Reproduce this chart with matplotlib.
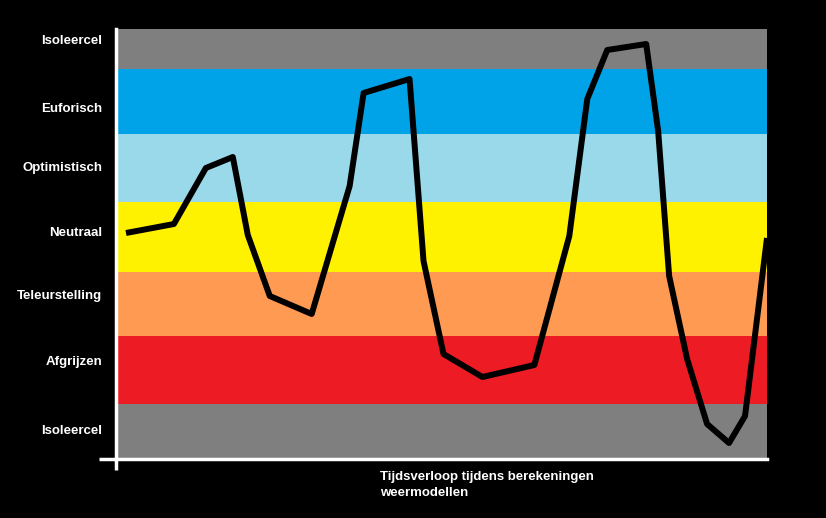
import matplotlib.pyplot as plt

# stemming-banden (van onder naar boven), grenzen in y-eenheden
band_edges = [0, 55, 123, 187, 257, 325, 390, 430]
band_colors = ['#7f7f7f', '#ed1c24', '#ff9a52', '#fff200', '#99d9ea', '#00a2e8', '#7f7f7f']

labels = ['Isoleercel', 'Afgrijzen', 'Teleurstelling', 'Neutraal',
          'Optimistisch', 'Euforisch', 'Isoleercel']
label_pos = [30, 98, 164, 228, 292, 351, 420]

# verloop van de stemming
tijd = [10, 58, 90, 117, 132, 154, 196, 234, 248, 294, 308, 328, 367,
        419, 454, 472, 492, 531, 543, 554, 572, 592, 614, 630, 652]
stemming = [226, 235, 291, 302, 224, 163, 145, 273, 366, 380, 198, 105, 82,
            94, 223, 360, 409, 415, 328, 183, 100, 35, 16, 43, 221]

plt.rcParams['font.family'] = ['Liberation Sans', 'DejaVu Sans']

fig = plt.figure(figsize=(8.26, 5.18), dpi=100, facecolor='black')
ax = fig.add_axes([116/826, (518-459)/518, (767-116)/826, (459-29)/518])
ax.set_facecolor('black')

for i in range(len(band_colors)):
    ax.axhspan(band_edges[i], band_edges[i+1], color=band_colors[i], lw=0)

ax.plot(tijd, stemming, color='black', lw=4.3, solid_capstyle='butt', solid_joinstyle='round')

ax.set_xlim(0, 652)
ax.set_ylim(0, 430)

for s in ['top', 'right']:
    ax.spines[s].set_visible(False)
for s in ['left', 'bottom']:
    ax.spines[s].set_color('white')
    ax.spines[s].set_linewidth(2.5)

ax.set_xticks([])
ax.set_yticks(label_pos)
ax.set_yticklabels(labels, color='white', fontsize=9.5, fontweight='bold')
ax.tick_params(axis='y', which='major', length=0, pad=10)

# kruis in de oorsprong
ax.set_xticks([0], minor=True)
ax.set_yticks([0], minor=True)
ax.tick_params(axis='x', which='minor', length=8, width=2.5, color='white', labelbottom=False)
ax.tick_params(axis='y', which='minor', length=12, width=2.5, color='white', labelleft=False)

fig.text(380/826, 1 - 471/518, 'Tijdsverloop tijdens berekeningen\nweermodellen',
         color='white', fontsize=9.5, fontweight='bold', ha='left', va='top',
         linespacing=1.45)

fig.savefig('out.png', dpi=100, facecolor='black')
